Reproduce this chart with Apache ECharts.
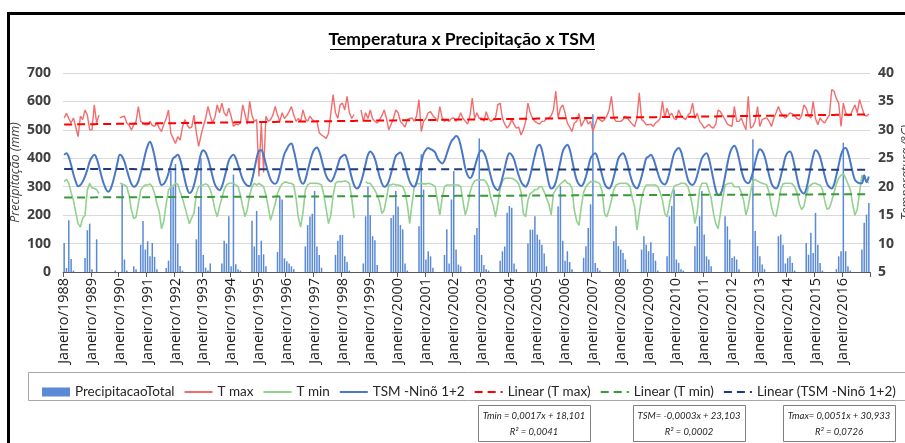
<!DOCTYPE html>
<html><head><meta charset="utf-8">
<script src="https://cdn.jsdelivr.net/npm/echarts@6/dist/echarts.min.js"></script>
<style>html,body{margin:0;padding:0;background:#fff}#c{width:905px;height:443px}</style>
</head><body><div id="c"></div>
<script>
const meses = ['Janeiro','Fevereiro','Março','Abril','Maio','Junho','Julho','Agosto','Setembro','Outubro','Novembro','Dezembro'];
const anos = [1988,1989,1990,1991,1992,1993,1994,1995,1996,1997,1998,1999,2000,2001,2002,2003,2004,2005,2006,2007,2008,2009,2010,2011,2012,2013,2014,2015,2016];

// Precipitação total mensal (mm), Jan..Dez por ano
const precipitacao = [
 102,14,182,46,5,0,0,0,0,49,147,170,
 10,0,115,0,0,0,0,0,0,0,5,0,
 0,308,44,5,0,0,20,10,0,96,179,79,
 108,55,102,53,10,0,0,0,14,40,355,300,
 380,100,21,5,0,0,0,0,0,115,230,400,
 60,15,5,30,0,0,0,0,30,110,100,196,
 20,343,27,10,5,0,0,0,0,180,90,215,
 60,110,62,20,0,0,0,0,70,265,255,48,
 38,30,20,10,0,0,0,0,90,165,195,205,
 285,90,60,15,0,0,0,0,0,60,110,130,
 130,55,35,5,0,0,0,0,0,30,196,300,
 200,126,112,25,0,0,0,0,0,190,200,285,
 230,165,150,30,5,0,0,0,0,161,414,290,
 44,73,55,15,0,0,0,0,60,150,30,255,
 355,79,26,20,0,0,0,0,0,130,155,470,
 60,25,10,5,0,0,0,0,40,73,90,208,
 232,226,30,10,0,0,0,0,100,149,149,196,
 132,114,96,65,20,0,0,0,0,230,302,110,
 40,73,35,10,0,0,0,0,50,91,155,238,
 555,32,14,5,0,0,0,0,0,108,161,91,
 79,67,44,10,0,0,0,0,0,79,126,96,
 73,105,67,40,5,0,0,0,55,196,232,290,
 44,32,10,5,0,0,0,0,91,161,196,285,
 132,55,44,20,0,0,0,0,0,196,161,114,
 49,55,44,10,0,0,0,0,0,467,144,91,
 55,26,10,0,0,0,0,0,126,132,96,30,
 49,55,32,5,0,0,0,0,102,61,138,67,
 208,96,32,5,0,0,0,0,0,10,55,73,
 455,73,20,5,0,0,0,0,79,173,202,243
];

// T max (°C)
const tMax = [
 32.1,32.9,32.0,31.2,32.1,30.5,28.8,32.4,31.8,33.5,32.6,30.0,
 30.0,34.4,31.2,32.6,null,null,null,null,null,null,null,null,
 32.1,32.3,32.4,31.2,30.8,30.0,30.9,31.5,34.1,31.5,31.2,30.9,
 30.9,31.5,30.8,30.6,31.2,30.3,29.7,31.0,32.0,33.5,29.4,28.5,
 27.6,28.8,28.2,30.5,31.8,30.9,30.3,30.5,32.6,29.5,27.1,29.0,
 30.6,32.0,34.1,32.5,31.2,32.2,34.4,33.0,34.7,33.0,32.4,33.8,
 32.4,30.6,31.0,30.9,31.2,34.4,32.7,31.0,35.0,32.5,31.5,31.8,
 21.8,31.2,22.5,32.4,31.5,31.8,32.6,34.1,32.6,31.5,33.0,32.0,
 32.5,33.2,34.1,32.6,31.5,32.0,31.5,33.5,32.0,31.5,32.4,31.8,
 31.5,31.5,29.5,29.1,28.8,28.5,29.4,33.0,36.2,33.0,32.0,34.4,
 34.7,33.5,35.9,33.0,32.0,32.7,null,null,33.5,31.5,33.0,32.0,
 33.5,32.0,31.5,31.2,31.8,32.5,33.5,32.0,30.0,31.0,32.0,33.5,
 33.0,31.5,31.0,30.5,31.8,32.0,32.1,31.5,32.5,35.3,29.7,31.5,
 32.0,33.0,33.2,32.5,32.1,31.5,34.1,32.1,31.5,31.8,31.5,32.0,
 32.1,31.5,32.0,33.0,32.0,31.5,31.0,32.5,35.6,32.0,33.0,32.0,
 32.1,31.5,33.2,32.0,31.5,31.8,32.1,34.4,34.7,32.0,31.0,30.3,
 30.8,31.8,31.0,30.3,30.5,29.1,30.0,31.5,34.7,33.0,32.0,31.5,
 31.2,31.0,31.5,31.5,32.0,32.1,32.5,33.5,36.8,32.1,33.8,34.4,
 33.0,31.2,30.5,29.7,31.2,31.5,32.9,30.6,31.5,32.1,31.0,31.5,
 29.7,31.0,32.1,31.8,31.5,31.8,32.4,33.5,35.9,32.1,31.5,31.5,
 31.5,31.8,32.4,32.0,31.5,31.0,30.6,32.0,36.5,31.8,31.5,30.9,
 30.9,31.0,30.6,31.2,31.5,32.0,35.0,32.1,33.8,32.5,32.9,32.0,
 31.8,33.5,32.5,32.1,31.8,32.6,33.0,34.7,32.0,32.9,31.5,31.0,
 30.3,30.6,31.0,30.5,30.3,31.0,33.5,33.2,32.5,31.8,31.0,30.8,
 30.6,34.1,31.5,31.5,32.1,31.0,30.0,35.9,30.3,30.6,31.5,34.1,
 30.6,31.8,32.0,32.1,31.5,30.6,32.0,33.0,34.1,33.0,32.5,32.1,
 32.5,33.0,32.8,32.6,32.0,31.8,32.5,34.4,33.8,32.5,32.1,35.0,
 32.0,30.9,32.1,31.5,31.2,32.0,32.6,37.1,36.8,35.5,34.7,30.6,
 34.7,33.0,32.5,32.6,33.5,34.4,33.0,35.3,34.0,32.6,32.4,32.8
];

// T min (°C)
const tMin = [
 20.9,21.3,20.6,19.0,17.6,15.5,13.5,12.9,14.5,15.0,19.4,20.6,
 19.8,19.7,19.5,18.8,null,null,null,null,null,null,null,null,
 20.6,20.5,20.3,20.0,18.5,15.9,14.4,14.7,17.0,19.4,20.0,20.3,
 20.3,20.5,20.0,18.8,17.0,15.6,12.6,14.0,17.0,19.4,20.0,20.2,
 20.6,20.4,19.1,18.0,16.5,15.0,13.5,14.5,15.3,18.8,20.0,20.2,
 20.3,20.5,20.3,19.5,18.0,16.0,14.7,16.5,18.0,19.5,20.3,20.6,
 20.6,20.6,20.3,20.0,18.5,16.5,14.7,16.0,18.5,20.0,20.6,20.3,
 20.6,20.3,20.0,18.5,16.5,14.1,15.5,17.0,18.8,19.8,20.5,20.8,
 20.8,20.6,20.6,20.3,18.0,14.5,12.9,15.5,19.4,20.3,20.6,20.6,
 20.6,20.6,20.5,20.3,18.5,16.0,13.5,15.0,18.5,20.6,20.9,20.9,
 20.9,21.0,20.9,20.6,18.0,14.5,null,null,null,null,20.9,20.6,
 20.6,20.0,19.4,18.5,17.4,15.3,15.9,18.0,20.3,20.3,20.5,20.3,
 20.3,20.2,20.0,19.0,16.8,13.5,17.0,20.0,20.6,20.5,20.6,20.5,
 20.5,20.6,20.5,20.3,20.0,17.5,15.0,18.0,20.0,20.3,20.3,20.3,
 20.3,20.3,20.3,20.0,17.4,15.0,16.5,19.0,20.3,21.0,21.2,21.2,
 21.2,21.2,20.8,20.0,18.0,16.8,14.7,17.0,19.7,21.0,21.5,21.5,
 21.5,21.5,21.3,21.0,20.5,19.1,15.3,14.7,17.6,18.8,19.1,19.5,
 19.5,20.0,20.0,19.1,18.0,17.0,15.0,18.8,19.5,20.0,20.5,20.8,
 21.2,20.6,20.5,19.7,15.9,14.0,13.2,16.5,19.0,20.0,20.5,20.9,
 20.9,20.9,20.8,20.5,19.1,15.3,14.7,16.0,17.6,19.5,20.3,20.5,
 20.6,20.6,20.6,20.5,20.0,18.0,16.5,12.4,15.3,18.0,19.5,20.3,
 20.3,20.3,20.3,20.3,20.0,19.0,17.6,15.3,14.7,17.0,18.8,20.0,
 20.3,20.4,20.6,20.6,20.5,20.0,18.5,16.5,13.5,15.6,19.5,20.6,
 20.6,20.6,19.4,18.0,15.3,13.5,12.6,15.3,18.0,20.3,20.5,20.6,
 20.6,20.0,20.0,20.0,19.0,17.6,15.0,16.5,19.0,21.0,21.3,21.0,
 20.8,20.6,20.5,20.3,19.0,16.5,15.0,14.8,17.0,19.5,20.5,20.6,
 20.6,20.6,20.5,20.0,19.0,17.0,16.0,16.5,18.5,20.0,20.3,20.6,
 20.6,20.4,20.3,19.5,17.5,16.0,16.3,17.5,19.0,20.5,21.5,22.0,
 22.3,21.5,20.5,19.5,17.0,15.0,16.0,19.0,22.0,21.5,21.0,20.6
];

// TSM - Niño 1+2 (°C)
const tsm = [
 25.6,25.9,25.2,23.8,22.2,20.9,20.1,20.3,20.9,21.8,23.0,24.4,
 25.2,25.6,25.0,23.6,22.0,20.6,19.6,19.1,19.6,20.8,22.4,24.2,
 25.6,25.3,24.4,23.0,21.6,20.5,20.0,20.2,21.0,22.4,24.0,25.8,
 27.2,27.9,27.0,25.3,23.2,21.3,20.3,20.5,21.2,22.4,23.8,25.0,
 25.3,25.6,24.8,23.2,21.3,19.7,18.9,19.2,20.3,22.0,24.0,25.8,
 26.4,26.0,25.0,23.5,21.8,20.4,19.7,19.4,20.0,21.4,23.0,24.6,
 25.3,25.6,25.0,23.8,22.5,21.3,20.6,20.2,20.1,21.2,23.0,25.0,
 26.3,26.4,25.5,24.0,22.5,21.3,20.7,20.5,21.0,22.4,24.2,25.8,
 26.6,27.3,27.6,26.4,24.6,22.5,21.0,20.5,21.2,22.8,24.4,25.8,
 26.6,26.9,26.2,24.8,23.2,21.9,21.2,20.9,21.4,22.5,23.8,25.0,
 25.4,25.6,24.8,23.3,21.6,20.3,19.7,19.9,20.8,22.3,24.0,25.6,
 26.2,25.8,24.9,23.4,21.8,20.6,20.0,20.2,21.0,22.4,24.0,25.4,
 25.8,26.0,25.3,23.8,22.2,20.9,20.2,20.0,20.8,22.4,24.2,25.8,
 26.5,26.8,26.6,26.4,26.0,25.0,24.4,24.1,24.6,25.8,27.0,28.0,
 28.5,28.9,28.6,27.2,25.3,23.2,22.0,21.5,22.0,23.4,24.8,26.0,
 26.4,26.0,25.0,23.4,21.8,20.4,19.7,19.4,20.1,21.6,23.3,25.0,
 25.9,25.6,24.8,23.4,22.0,20.9,20.3,20.0,20.6,22.0,23.8,25.6,
 27.0,27.4,26.5,24.6,22.6,20.6,19.7,19.9,20.8,22.5,24.4,26.2,
 27.0,27.4,26.6,24.8,22.8,21.2,20.4,20.1,20.6,21.8,23.4,25.0,
 25.6,25.9,25.1,23.6,22.0,20.6,19.9,19.7,20.3,21.7,23.4,25.0,
 25.6,25.9,25.2,23.8,22.2,20.8,20.0,19.7,20.4,21.8,23.4,25.0,
 25.3,25.6,25.0,23.8,22.4,21.2,20.6,20.4,21.0,22.4,24.2,25.8,
 26.5,26.8,26.2,24.6,22.8,21.2,20.5,20.3,20.8,22.0,23.6,25.0,
 25.6,25.9,25.0,23.2,21.2,19.4,18.5,18.7,19.8,21.8,24.0,25.8,
 26.8,27.2,26.5,24.9,23.0,21.5,20.8,20.6,21.2,22.6,24.3,25.8,
 26.6,26.3,25.4,23.8,22.0,20.6,19.9,19.7,20.3,21.8,23.5,25.2,
 26.0,26.2,25.4,23.6,21.6,19.9,19.1,18.8,19.6,21.4,23.5,25.4,
 26.4,26.1,25.2,23.6,21.9,20.5,19.9,19.7,20.4,22.0,23.8,25.6,
 26.6,26.8,26.0,24.4,22.6,21.2,20.8,20.6,20.6,22.0,20.8,21.8
];

// Linhas de tendência (coeficientes do gráfico: [inclinação, intercepto])
const linTmax = [0.0051, 30.933];
const linTmin = [0.0017, 18.101];
const linTsm = [-0.0003, 23.103];
const equacoes = [
  ['Tmin = 0,0017x + 18,101', 'R² = 0,0041'],
  ['TSM= -0,0003x + 23,103', 'R² = 0,0002'],
  ['Tmax= 0,0051x + 30,933', 'R² = 0,0726']
];
const ticksEsq = [0,100,200,300,400,500,600,700];
const ticksDir = [5,10,15,20,25,30,35,40];

const categorias = [];
anos.forEach(a => meses.forEach(m => categorias.push(m + '/' + a)));
const tendencia = c => categorias.map((_, i) => +(c[1] + c[0] * (i + 1)).toFixed(3));

const chart = echarts.init(document.getElementById('c'), null, {renderer: 'canvas'});
const dashed = [8, 5];
const semSimbolo = {opacity: 0};

const boxes = [];
const boxX = [478, 633, 783];
equacoes.forEach((eq, k) => {
  boxes.push({type: 'rect', shape: {x: boxX[k] + 0.5, y: 405.5, width: 112, height: 36},
    style: {fill: '#fff', stroke: '#7f7f7f', lineWidth: 1}, z: 1});
  boxes.push({type: 'text', x: boxX[k] + 56, y: 416,
    style: {text: eq[0], font: 'italic 9.5px Lato', fill: '#262626', textAlign: 'center', textVerticalAlign: 'middle'}, z: 2});
  boxes.push({type: 'text', x: boxX[k] + 56, y: 432,
    style: {text: eq[1], font: 'italic 9.5px Lato', fill: '#262626', textAlign: 'center', textVerticalAlign: 'middle'}, z: 2});
});

chart.setOption({
  animation: false,
  backgroundColor: '#fff',
  graphic: [
    {type: 'polyline', shape: {points: [[8.5, 443], [8.5, 13.5], [905, 13.5]]},
      style: {stroke: '#000', lineWidth: 3, fill: null}, z: 1},
    {type: 'text', x: 462, y: 39,
      style: {text: 'Temperatura x Precipitação x TSM', font: 'bold 17.5px Lato', fill: '#000', textAlign: 'center', textVerticalAlign: 'middle'}, z: 2},
    {type: 'line', shape: {x1: 330, y1: 49.5, x2: 595, y2: 49.5}, style: {stroke: '#000', lineWidth: 1.2}, z: 2},
    {type: 'rect', shape: {x: 28.5, y: 372.5, width: 890, height: 28},
      style: {fill: null, stroke: '#a6a6a6', lineWidth: 1}, z: 1}
  ].concat(boxes),
  legend: {
    left: 37, top: 380, itemWidth: 28, itemHeight: 9, itemGap: 9,
    textStyle: {fontFamily: 'Lato', fontSize: 13.5, color: '#262626'},
    data: [
      {name: 'PrecipitacaoTotal', icon: 'rect'},
      {name: 'T max', itemStyle: semSimbolo},
      {name: 'T min', itemStyle: semSimbolo},
      {name: 'TSM -Ninõ 1+2', itemStyle: semSimbolo},
      {name: 'Linear (T max)', itemStyle: semSimbolo},
      {name: 'Linear (T min)', itemStyle: semSimbolo},
      {name: 'Linear (TSM -Ninõ 1+2)', itemStyle: semSimbolo}
    ]
  },
  grid: {left: 63, right: 35, top: 73, bottom: 171, containLabel: false, outerBoundsMode: 'none'},
  xAxis: {
    type: 'category', data: categorias, boundaryGap: true,
    axisLine: {lineStyle: {color: '#595959', width: 1}},
    axisTick: {show: true, interval: 11, length: 5, lineStyle: {color: '#595959'}},
    axisLabel: {interval: 11, rotate: 90, fontSize: 14.5, fontFamily: 'Open Sans', color: '#1a1a1a', margin: 6},
    splitLine: {show: false}
  },
  yAxis: [
    {type: 'value', min: ticksEsq[0], max: ticksEsq[ticksEsq.length - 1], interval: 100,
      name: 'Precipitação (mm)', nameLocation: 'middle', nameGap: 41, nameRotate: 90, nameMoveOverlap: false,
      nameTextStyle: {fontStyle: 'italic', fontSize: 12.5, fontFamily: 'Open Sans', color: '#404040'},
      axisLine: {show: false}, axisTick: {show: false},
      axisLabel: {fontSize: 14, fontWeight: 'bold', fontFamily: 'Open Sans', color: '#404040', margin: 12},
      splitLine: {lineStyle: {color: '#d9d9d9', width: 1}}},
    {type: 'value', min: ticksDir[0], max: ticksDir[ticksDir.length - 1], interval: 5, position: 'right',
      name: 'Temperatura (°C)', nameLocation: 'middle', nameGap: 30, nameRotate: 90, nameMoveOverlap: false,
      nameTextStyle: {fontStyle: 'italic', fontSize: 12.5, fontFamily: 'Open Sans', color: '#404040'},
      axisLine: {show: false}, axisTick: {show: false},
      axisLabel: {fontSize: 14, fontWeight: 'bold', fontFamily: 'Open Sans', color: '#404040', margin: 8},
      splitLine: {show: false}}
  ],
  series: [
    {name: 'PrecipitacaoTotal', type: 'bar', yAxisIndex: 0, data: precipitacao,
      barWidth: '65%', itemStyle: {color: '#5a8ad6'}},
    {name: 'T max', type: 'line', yAxisIndex: 1, data: tMax, symbol: 'none',
      lineStyle: {color: '#f26d6d', width: 1.4}, itemStyle: {color: '#f26d6d'}},
    {name: 'T min', type: 'line', yAxisIndex: 1, data: tMin, symbol: 'none',
      lineStyle: {color: '#93d18f', width: 1.6}, itemStyle: {color: '#93d18f'}},
    {name: 'TSM -Ninõ 1+2', type: 'line', yAxisIndex: 1, data: tsm, symbol: 'none', smooth: 0.35,
      lineStyle: {color: '#4a78c8', width: 2}, itemStyle: {color: '#4a78c8'}},
    {name: 'Linear (T max)', type: 'line', yAxisIndex: 1, data: tendencia(linTmax), symbol: 'none',
      lineStyle: {color: '#ff0000', width: 2, type: dashed}, itemStyle: {color: '#ff0000'}},
    {name: 'Linear (T min)', type: 'line', yAxisIndex: 1, data: tendencia(linTmin), symbol: 'none',
      lineStyle: {color: '#3a9a3a', width: 2, type: dashed}, itemStyle: {color: '#3a9a3a'}},
    {name: 'Linear (TSM -Ninõ 1+2)', type: 'line', yAxisIndex: 1, data: tendencia(linTsm), symbol: 'none',
      lineStyle: {color: '#1f3d7a', width: 2, type: dashed}, itemStyle: {color: '#1f3d7a'}}
  ]
});
</script></body></html>
